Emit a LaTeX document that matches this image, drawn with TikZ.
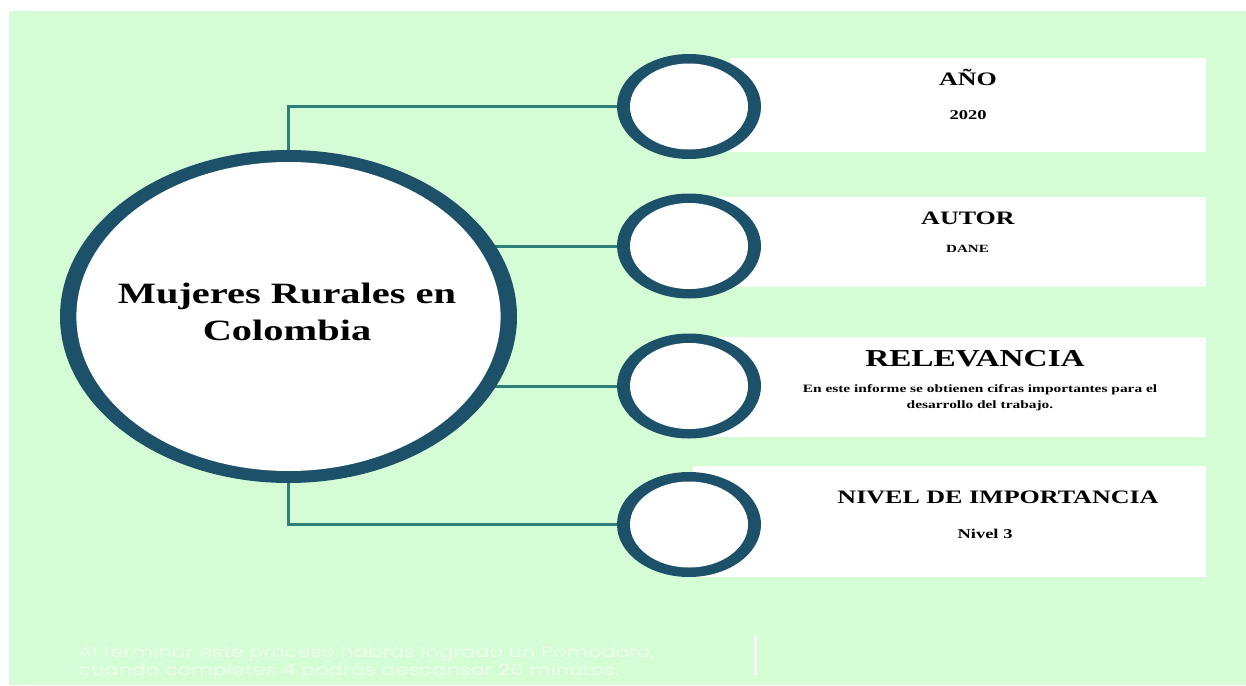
\documentclass[tikz,border=0pt]{standalone}
\usepackage{fontspec}
\setmainfont{Liberation Serif}
\newfontfamily\wideserif[FakeStretch=1.37]{Liberation Serif}
\newfontfamily\footfont[FakeStretch=1.37]{Poppins}
\usetikzlibrary{shapes.geometric,backgrounds}
\definecolor{bg}{HTML}{D5FDD5}
\definecolor{ringc}{HTML}{1D5169}
\definecolor{connc}{HTML}{2E7F7A}
\tikzset{
  panel/.style={rectangle, fill=white, draw=none, inner sep=0, outer sep=0},
  bigring/.style={ellipse, fill=ringc, draw=none, inner sep=0, outer sep=0, minimum width=457, minimum height=333,
    path picture={\fill[white] (path picture bounding box.center) ellipse [x radius=212.1pt, y radius=154.5pt];}},
  smallring/.style={ellipse, fill=ringc, draw=none, inner sep=0, outer sep=0, minimum width=144, minimum height=105,
    path picture={\fill[white] (path picture bounding box.center) ellipse [x radius=59pt, y radius=43pt];}},
  connector/.style={draw=connc, line width=3pt},
  headtxt/.style={anchor=base, inner sep=0, font=\wideserif\bfseries\fontsize{19}{23}\selectfont},
  valtxt/.style={anchor=base, inner sep=0, font=\wideserif\bfseries\fontsize{13.5}{16}\selectfont},
  foottxt/.style={anchor=base west, inner sep=0, text=white, opacity=0.55, font=\footfont\fontsize{15.3}{18}\selectfont}
}
\begin{document}
\begin{tikzpicture}[x=1pt,y=-1pt]
\useasboundingbox (0,0) rectangle (1246,685);
% panels
\node[panel, minimum width=476, minimum height=94] (r1) at (968,105) {};
\node[panel, minimum width=504, minimum height=90] (r2) at (954,242) {};
\node[panel, minimum width=504, minimum height=100] (r3) at (954,387) {};
\node[panel, minimum width=513, minimum height=111] (r4) at (949.5,521.5) {};
% rings
\node[bigring] (main) at (288.5,316.5) {};
\node[anchor=base, inner sep=0, align=center, font=\wideserif\bfseries\fontsize{29.5}{37}\selectfont] (mt) at (287,340) {Mujeres Rurales en\\Colombia};
\node[smallring] (c1) at (689,106.5) {};
\node[smallring] (c2) at (689,246) {};
\node[smallring] (c3) at (689,386) {};
\node[smallring] (c4) at (689,524.5) {};
% texts
\node[headtxt] (h1) at (968,85.5) {AÑO};
\node[valtxt] (v1) at (968,119.5) {2020};
\node[headtxt] (h2) at (968,224) {AUTOR};
\node[valtxt, font=\wideserif\bfseries\fontsize{11}{13}\selectfont] (v2) at (967.5,252) {DANE};
\node[headtxt, font=\wideserif\bfseries\fontsize{24.3}{28}\selectfont] (h3) at (975,366) {RELEVANCIA};
\node[anchor=base, inner sep=0, align=center, font=\wideserif\bfseries\fontsize{11.25}{16}\selectfont] (v3) at (980,408) {En este informe se obtienen cifras importantes para el\\desarrollo del trabajo.};
\node[headtxt] (h4) at (998,503) {NIVEL DE IMPORTANCIA};
\node[valtxt] (v4) at (985,538) {Nivel 3};
% footer
\node[foottxt] (f1) at (78,657) {Al terminar este proceso habrás logrado un Pomodoro,};
\node[foottxt] (f2) at (78,675) {cuando completes 4 podrás descansar 20 minutos.};
\coordinate (bt) at (755,635);
\coordinate (bb) at (755,675);
\draw[white, opacity=0.8, line width=3pt] (bt) -- (bb);
% background and connectors
\begin{scope}[on background layer]
\fill[bg] (9,11) rectangle (1246,685);
\draw[connector] (main.north) |- (c1.west);
\draw[connector] (main.center |- c2.west) -- (c2.west);
\draw[connector] (main.center |- c3.west) -- (c3.west);
\draw[connector] (main.south) |- (c4.west);
\end{scope}
\end{tikzpicture}
\end{document}
